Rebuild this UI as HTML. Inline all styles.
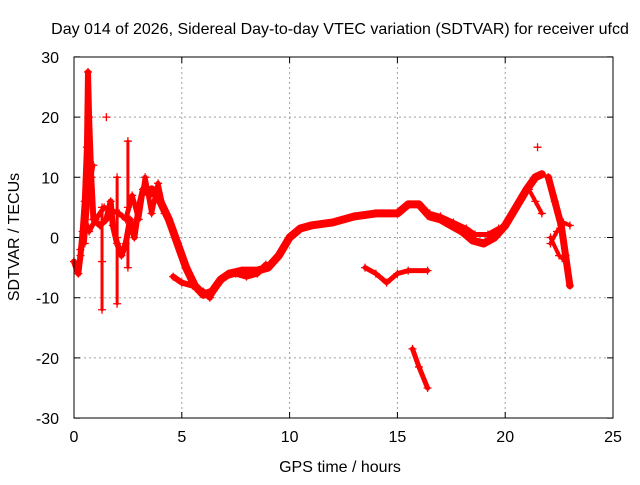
<!DOCTYPE html>
<html><head><meta charset="utf-8"><style>
body{margin:0;background:#fff;font-family:"Liberation Sans",sans-serif}
svg text{font-family:"Liberation Sans",sans-serif;font-size:16px;fill:#000}
</style></head><body>
<svg id="c" width="640" height="480">
<text x="340" y="34" text-anchor="middle">Day 014 of 2026, Sidereal Day-to-day VTEC variation (SDTVAR) for receiver ufcd</text>
<text x="340" y="472" text-anchor="middle">GPS time / hours</text>
<text transform="translate(19,237) rotate(-90)" text-anchor="middle">SDTVAR / TECUs</text>
<g id="grid"></g><g id="marks"></g>
<rect x="74" y="57" width="539" height="361" fill="none" stroke="#000"/>
</svg>
<script>
const xTicks=[0,5,10,15,20,25];
const yTicks=[-30,-20,-10,0,10,20,30];
const mainBand=[[3.6,8],[4.0,6],[4.4,3],[4.8,-1],[5.2,-5],[5.6,-8],[6.0,-9.5],[6.4,-9],[6.8,-7],[7.2,-6],[7.8,-5.5],[8.5,-5.5],[9.0,-5],[9.5,-3],[10,0],[10.5,1.5],[11,2],[12,2.5],[13,3.5],[14,4],[15,4],[15.5,5.5],[16,5.5],[16.5,3.5],[17,3],[17.5,2],[18,1],[18.5,-0.5],[19,-1],[19.5,0],[20,2],[20.5,5],[21,8],[21.4,10],[21.7,10.5]];
const lowerBand=[[4.6,-6.5],[5,-7.5],[5.5,-8],[6,-9],[6.3,-10],[6.6,-8],[7,-6.5],[7.5,-6],[8,-6.5],[8.5,-6],[8.9,-4.5]];
const upperBand=[[16.5,4],[17,3.5],[17.6,2.5],[18.2,1.5],[18.6,0.5],[19.2,0.5],[19.7,1.5]];
const branchA=[[21.1,8],[21.4,6],[21.7,4]];
const branchB=[[22,10],[22.3,6],[22.6,2],[22.8,-3],[23,-8]];
const branchC=[[22.1,-1],[22.4,1],[22.7,2.5],[23.0,2]];
const branchD=[[22.1,0],[22.5,-3],[22.8,-4]];
const dipSeg=[[13.5,-5],[14,-6],[14.5,-7.5],[15,-6],[15.5,-5.5],[16.4,-5.5]];
const dropSeg=[[15.7,-18.5],[16.0,-21.5],[16.4,-25]];
const earlyTrace=[[0,-4],[0.2,-6],[0.3,-3],[0.4,1],[0.5,6],[0.6,15],[0.65,27.5],[0.7,20],[0.8,10],[0.9,3],[1.2,2],[1.5,3],[1.7,6],[1.8,2],[2.0,-1],[2.2,-3],[2.4,-1],[2.6,3],[2.8,0],[3.0,5],[3.2,8],[3.5,7],[3.8,8],[4.0,6]];
const earlyTrace2=[[0.3,-2],[0.5,3],[0.7,1],[1.0,3],[1.4,5],[2.1,4],[2.4,3],[2.7,7],[3.0,3],[3.3,10],[3.6,4],[3.9,9],[4.2,4]];
const spike1=[[2.0,10],[2.0,0],[2.0,-11]];
const spike2=[[2.5,16],[2.5,5],[2.5,-5]];
const spike3=[[1.3,5],[1.3,-4],[1.3,-12]];
const spike4=[[0.5,-1],[0.7,8],[0.9,12]];
const lonePts=[[1.5,20],[21.5,15]];
const X=h=>74+h*21.56, Y=v=>237.5-v*6.02;
const ns="http://www.w3.org/2000/svg";
const grid=document.getElementById('grid'), marks=document.getElementById('marks');
function mk(t,a,p){const e=document.createElementNS(ns,t);for(const k in a)e.setAttribute(k,a[k]);p.appendChild(e);return e;}
xTicks.forEach(t=>{
 if(t>0&&t<25){const g=mk('line',{x1:X(t),x2:X(t),y1:57,y2:418,stroke:'#a0a0a0','stroke-dasharray':'2,3'},grid);
 
 }
 const tk=mk('path',{d:`M${X(t)},418v-6M${X(t)},57v6`,stroke:'#000'},grid);
 
 
 const l=mk('text',{x:X(t),y:442,'text-anchor':'middle'},grid);l.textContent=t;
 
 
});
yTicks.forEach(t=>{
 if(t>-30&&t<30){const g=mk('line',{x1:74,x2:613,y1:Y(t),y2:Y(t),stroke:'#a0a0a0','stroke-dasharray':'2,3'},grid);
 
 }
 const tk=mk('path',{d:`M74,${Y(t)}h6M613,${Y(t)}h-6`,stroke:'#000'},grid);
 
 
 const l=mk('text',{x:59,y:Y(t)+6,'text-anchor':'end'},grid);l.textContent=t;
 
 
});
function trace(arr,name,w){
 const p=mk('polyline',{points:arr.map(d=>X(d[0])+','+Y(d[1])).join(' '),fill:'none',stroke:'#f00','stroke-width':w,'stroke-linejoin':'round','stroke-linecap':'round'},marks);
 
 
 arr.forEach(d=>{const m=mk('path',{d:`M${X(d[0])-4},${Y(d[1])}h8M${X(d[0])},${Y(d[1])-4}v8`,stroke:'#f00','stroke-width':1.3},marks);
 
 });
}
trace(mainBand,'main-band',8);trace(lowerBand,'lower-band',6);trace(upperBand,'upper-band',5);
trace(branchA,'branch-a',4);trace(branchB,'branch-b',7);trace(branchC,'branch-c',4);trace(branchD,'branch-d',4);
trace(dipSeg,'dip-segment',5);trace(dropSeg,'drop-segment',5);trace(earlyTrace,'early-trace',6);trace(earlyTrace2,'early-trace-2',5);
trace(spike1,'spike-1',3);trace(spike2,'spike-2',3);trace(spike3,'spike-3',3);trace(spike4,'spike-4',4);
trace(lonePts.slice(0,1),'lone-point',1);trace(lonePts.slice(1),'lone-point',1);
</script>
</body></html>
